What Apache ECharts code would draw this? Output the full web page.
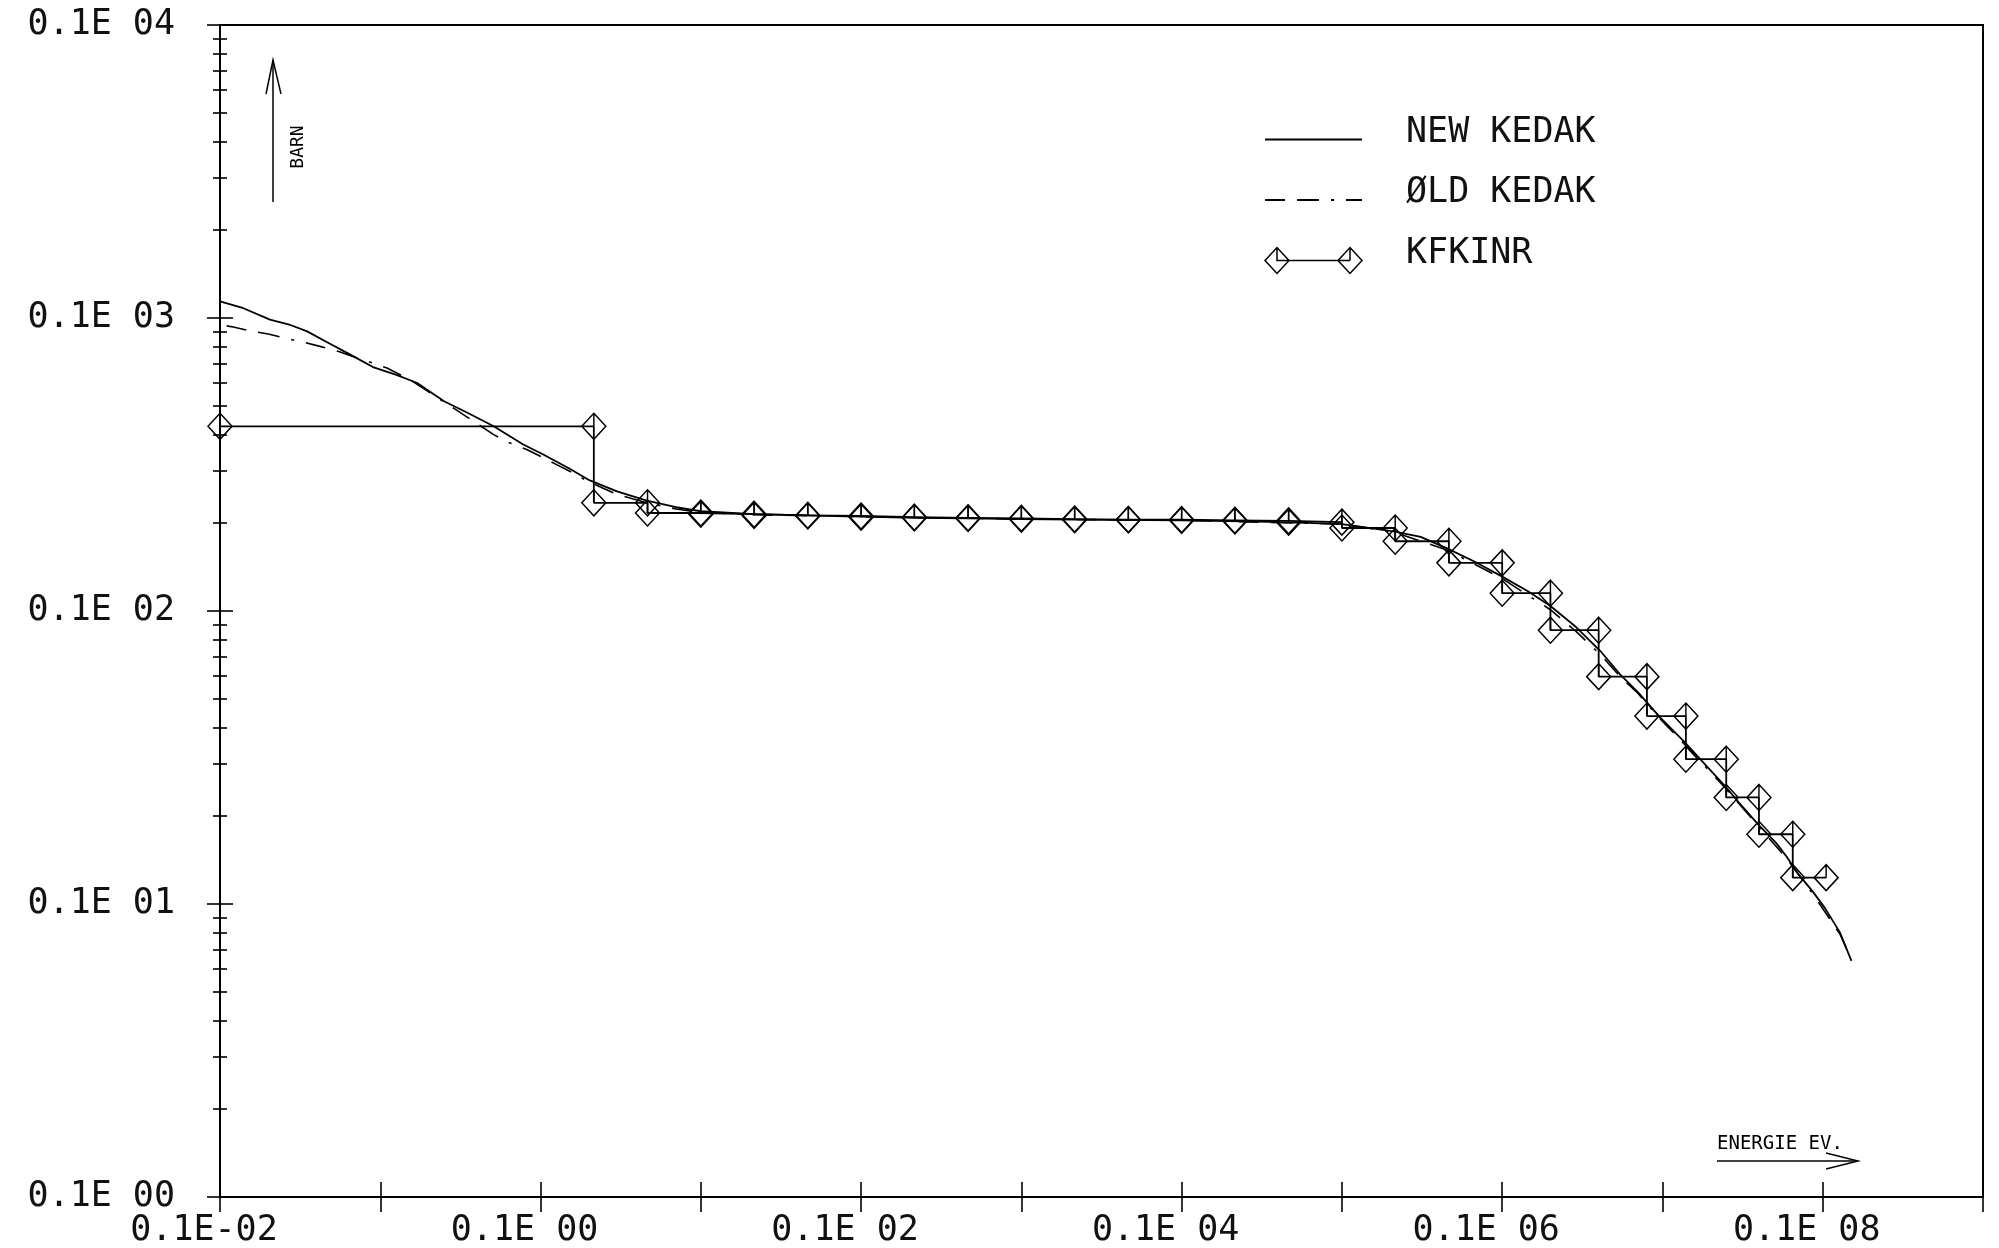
<!DOCTYPE html>
<html>
<head>
<meta charset="utf-8">
<script src="https://cdn.jsdelivr.net/npm/echarts@6/dist/echarts.min.js"></script>
<style>
html,body{margin:0;padding:0;background:#fff;}
#chart{width:1999px;height:1248px;}
</style>
</head>
<body>
<div id="chart"></div>
<script>
// ---- axis ticks / labels ----
const xTickValues = [1e-3, 1e-2, 1e-1, 1, 1e1, 1e2, 1e3, 1e4, 1e5, 1e6, 1e7, 1e8];
const xLabelValues = [1e-3, 1e-1, 1e1, 1e3, 1e5, 1e7];
const xLabelTexts = ['0.1E-02', '0.1E 00', '0.1E 02', '0.1E 04', '0.1E 06', '0.1E 08'];
const yMajorValues = [0.1, 1, 10, 100, 1000];
const yLabelTexts = ['0.1E 00', '0.1E 01', '0.1E 02', '0.1E 03', '0.1E 04'];
const yMinorValues = [0.2, 0.3, 0.4, 0.5, 0.6, 0.7, 0.8, 0.9,
  2, 3, 4, 5, 6, 7, 8, 9,
  20, 30, 40, 50, 60, 70, 80, 90,
  200, 300, 400, 500, 600, 700, 800, 900];

// ---- NEW KEDAK (energy eV, barn) ----
const newKedakE = [1e-3, 1.4e-3, 2.05e-3, 2.7e-3, 3.5e-3, 4.6e-3, 6.5e-3, 9e-3, 1.26e-2, 1.7e-2,
  2.5e-2, 3.5e-2, 5.1e-2, 7.8e-2, 0.104, 0.152, 0.203, 0.3, 0.46, 0.7, 1.0, 2.15, 4.65, 10,
  21.5, 46.5, 100, 215, 1000, 3000, 6000, 1e4, 2.1e4, 3.1e4, 4.6e4, 6.8e4, 1e5, 1.44e5, 2e5,
  2.9e5, 4.1e5, 5.4e5, 7e5, 9.6e5, 1.38e6, 1.88e6, 2.45e6, 3.0e6, 3.95e6, 5.1e6, 5.9e6, 7.0e6,
  8.7e6, 1.03e7, 1.28e7, 1.51e7];
const newKedakS = [114, 108, 98.7, 95, 90, 83, 75, 68, 64, 60,
  52, 47.5, 42.7, 37, 34.2, 30.6, 27.9, 25.6, 23.8, 22.6, 21.9, 21.4, 21.2, 21.0,
  20.8, 20.7, 20.6, 20.5, 20.4, 20.2, 20.0, 19.8, 18.7, 17.9, 16.3, 14.7, 13.1, 11.7, 10.4,
  8.8, 7.3, 6.1, 5.3, 4.35, 3.56, 2.96, 2.53, 2.22, 1.87, 1.62, 1.46, 1.27,
  1.10, 0.97, 0.80, 0.64];

// ---- OLD KEDAK ----
const oldKedakE = [1.1e-3, 1.21e-3, 1.6e-3, 2.0e-3, 2.67e-3, 3.3e-3, 4.2e-3, 5.5e-3, 7.1e-3, 9.0e-3,
  1.1e-2, 1.53e-2, 3.3e-2, 5.1e-2, 6.4e-2, 8.2e-2, 0.126, 0.152, 0.203, 0.3, 0.46, 0.7, 1.0, 2.15,
  10, 100, 1000, 1e4, 2.1e4, 4.6e4, 1e5, 2e5, 2.9e5, 4.1e5, 5.4e5, 7e5, 9.6e5, 1.38e6, 2.45e6,
  3.95e6, 5.9e6, 8.7e6, 1.28e7, 1.5e7];
const oldKedakS = [94, 93.2, 90, 88.2, 84.8, 82.8, 80, 76.9, 73.1, 70.2,
  67.5, 61.6, 46.8, 40.0, 37.5, 35.6, 31.6, 30.0, 27.5, 25.0, 23.4, 22.3, 21.7, 21.3,
  21.0, 20.6, 20.4, 19.8, 18.6, 16.1, 12.9, 10.1, 8.5, 7.1, 6.0, 5.25, 4.3, 3.5, 2.5,
  1.85, 1.44, 1.08, 0.79, 0.65];

// ---- KFKINR group cross sections (group boundaries in eV, ascending) ----
const groupBounds = [1e-3, 0.215, 0.465, 1, 2.15, 4.65, 10, 21.5, 46.5, 100, 215, 465, 1000,
  2150, 4650, 1e4, 2.15e4, 4.65e4, 1e5, 2e5, 4e5, 8e5, 1.4e6, 2.5e6, 4e6, 6.5e6, 1.05e7];
const groupValues = [42.7, 23.4, 21.6, 21.4, 21.2, 21.1, 20.9, 20.8, 20.7, 20.6, 20.5, 20.5,
  20.4, 20.3, 20.1, 19.2, 17.3, 14.6, 11.5, 8.6, 5.97, 4.38, 3.12, 2.31, 1.73, 1.23];

// ---- build series data ----
const zip = (a, b) => a.map((v, i) => [v, b[i]]);
const newData = zip(newKedakE, newKedakS);
const oldData = zip(oldKedakE, oldKedakS);
const stepData = [];
groupValues.forEach((v, i) => {
  stepData.push([groupBounds[i], v]);
  stepData.push([groupBounds[i + 1], v]);
});

const FONT = 'DejaVu Sans Mono';
const near = (a, b) => Math.abs(Math.log10(a) - Math.log10(b)) < 1e-6;

function xAx(inside, withLabels) {
  return {
    type: 'log', logBase: 10, min: 1e-3, max: 1e8, position: 'bottom',
    axisLine: { show: withLabels, onZero: false, lineStyle: { color: '#000', width: 2 } },
    axisTick: { show: true, customValues: xTickValues, length: 15, inside: inside,
      lineStyle: { color: '#000', width: 1.6 } },
    axisLabel: withLabels ? {
      show: true, customValues: xLabelValues, margin: 16,
      fontFamily: FONT, fontSize: 35, color: '#111',
      padding: [0, 32, 0, 0],
      formatter: (v) => { const i = xLabelValues.findIndex(t => near(t, v)); return i >= 0 ? xLabelTexts[i] : ''; }
    } : { show: false },
    splitLine: { show: false }, minorTick: { show: false }
  };
}
function yAx(ticks, len, inside, withLabels) {
  return {
    type: 'log', logBase: 10, min: 0.1, max: 1000, position: 'left',
    axisLine: { show: withLabels, onZero: false, lineStyle: { color: '#000', width: 2 } },
    axisTick: { show: true, customValues: ticks, length: len, inside: inside,
      lineStyle: { color: '#000', width: 1.6 } },
    axisLabel: withLabels ? {
      show: true, customValues: yMajorValues, margin: 45,
      fontFamily: FONT, fontSize: 35, color: '#111',
      formatter: (v) => { const i = yMajorValues.findIndex(t => near(t, v)); return i >= 0 ? yLabelTexts[i] : ''; }
    } : { show: false },
    splitLine: { show: false }, minorTick: { show: false }
  };
}

const diamond = 'path://M12,0L24,12L12,24L0,12Z M12,0L12,12';
const legendDiamonds = 'path://M0,14L12,1L24,14L12,27Z M12,1L12,14L85,14 M73,14L85,1L97,14L85,27Z M85,1L85,14';
const noSymbol = { color: 'rgba(0,0,0,0)', borderColor: 'rgba(0,0,0,0)', borderWidth: 0, opacity: 0 };

const chart = echarts.init(document.getElementById('chart'), null, { renderer: 'canvas' });
chart.setOption({
  animation: false,
  backgroundColor: '#fff',
  grid: { left: 220, right: 16, top: 25, bottom: 50, show: true, borderColor: '#000', borderWidth: 2, backgroundColor: 'transparent' },
  xAxis: [xAx(false, true), xAx(true, false)],
  yAxis: [yAx(yMajorValues, 13, false, true), yAx(yMajorValues, 13, true, false),
          yAx(yMinorValues, 7, false, false), yAx(yMinorValues, 7, true, false)],
  legend: {
    orient: 'vertical', left: 1264, top: 115, padding: 0,
    itemWidth: 97, itemHeight: 28, itemGap: 21, selectedMode: false,
    formatter: (name) => '{t|' + name + '}\n{s| }',
    textStyle: {
      color: '#111',
      rich: {
        t: { fontFamily: FONT, fontSize: 35, color: '#111', lineHeight: 28, padding: [0, 0, 0, 39] },
        s: { fontSize: 2, lineHeight: 14 }
      }
    },
    data: [
      { name: 'NEW KEDAK', itemStyle: noSymbol },
      { name: 'ØLD KEDAK', itemStyle: noSymbol },
      { name: 'KFKINR', icon: legendDiamonds, itemStyle: { color: 'rgba(0,0,0,0)', borderColor: '#000', borderWidth: 1.5 } }
    ]
  },
  series: [
    { name: 'NEW KEDAK', type: 'line', data: newData, symbol: 'none', xAxisIndex: 0, yAxisIndex: 0,
      lineStyle: { color: '#000', width: 1.8 }, itemStyle: { color: '#000' } },
    { name: 'ØLD KEDAK', type: 'line', data: oldData, symbol: 'none', xAxisIndex: 0, yAxisIndex: 0,
      lineStyle: { color: '#000', width: 1.6, type: [20, 12, 22, 12, 3, 12] }, itemStyle: { color: '#000' } },
    { name: 'KFKINR', type: 'line', data: stepData, symbol: diamond, symbolSize: [24, 26], showAllSymbol: true,
      xAxisIndex: 0, yAxisIndex: 0,
      lineStyle: { color: '#000', width: 1.8 },
      itemStyle: { color: 'rgba(0,0,0,0)', borderColor: '#000', borderWidth: 1.5 } }
  ],
  graphic: [
    { type: 'line', shape: { x1: 273, y1: 202, x2: 273, y2: 60 }, style: { stroke: '#000', lineWidth: 1.5 } },
    { type: 'polyline', shape: { points: [[266, 94], [273, 60], [281, 94]] }, style: { stroke: '#000', lineWidth: 1.5, fill: null } },
    { type: 'text', x: 298, y: 147, rotation: Math.PI / 2,
      style: { text: 'BARN', fontFamily: FONT, fontSize: 18, fill: '#000', align: 'center', verticalAlign: 'middle' } },
    { type: 'text', x: 1717, y: 1144,
      style: { text: 'ENERGIE EV.', fontFamily: FONT, fontSize: 19, fill: '#000', align: 'left', verticalAlign: 'middle' } },
    { type: 'line', shape: { x1: 1717, y1: 1161, x2: 1858, y2: 1161 }, style: { stroke: '#000', lineWidth: 1.5 } },
    { type: 'polyline', shape: { points: [[1826, 1153], [1858, 1161], [1826, 1169]] }, style: { stroke: '#000', lineWidth: 1.5, fill: null } }
  ]
});
</script>
</body>
</html>
